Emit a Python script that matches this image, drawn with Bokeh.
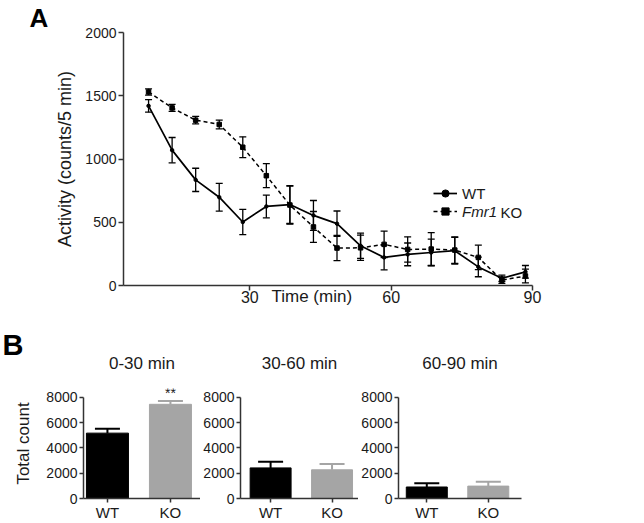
import numpy as np
from bokeh.plotting import figure
from bokeh.layouts import column, row
from bokeh.models import (ColumnDataSource, Whisker, TeeHead, Legend, LegendItem,
                          Label, FixedTicker, Range1d, Title)
from bokeh.embed import file_html
from bokeh.resources import INLINE

# ---------------- Panel A data ----------------
time_min = [8.5, 13.5, 18.5, 23.5, 28.5, 33.5, 38.5, 43.5, 48.5, 53.5,
            58.5, 63.5, 68.5, 73.5, 78.5, 83.5, 88.5]
wt_activity = [1420, 1070, 835, 698, 502, 625, 640, 554, 489, 314,
               222, 246, 261, 275, 147, 57, 108]
wt_sem = [50, 100, 92, 110, 100, 90, 150, 118, 100, 100,
          98, 90, 105, 105, 78, 25, 50]
ko_activity = [1530, 1404, 1307, 1273, 1093, 868, 636, 463, 296, 298,
               325, 285, 288, 280, 222, 42, 75]
ko_sem = [25, 28, 30, 35, 82, 95, 150, 122, 100, 100,
          105, 100, 130, 105, 97, 25, 55]
a_xticks = [30, 60, 90]
a_yticks = [0, 500, 1000, 1500, 2000]

# ---------------- Panel B data ----------------
groups = ["WT", "KO"]
windows = ["0-30 min", "30-60 min", "60-90 min"]
total_0_30 = [5170, 7450]
sem_0_30 = [355, 260]
total_30_60 = [2420, 2270]
sem_30_60 = [480, 450]
total_60_90 = [910, 980]
sem_60_90 = [300, 340]
signif_0_30 = ["", "**"]
b_yticks = [0, 2000, 4000, 6000, 8000]

FONT = "Liberation Sans"
AX = "#333333"
TXT = "#1a1a1a"
GRAY = "#a5a5a5"


def style_axis(ax, size, tick_out=5, standoff=2):
    ax.axis_line_color = AX
    ax.axis_line_width = 1.5
    ax.major_tick_line_color = AX
    ax.major_tick_line_width = 1.5
    ax.major_tick_out = tick_out
    ax.major_tick_in = 0
    ax.minor_tick_line_color = None
    ax.major_label_text_font = FONT
    ax.major_label_text_font_size = size
    ax.major_label_text_color = TXT
    ax.major_label_standoff = standoff
    ax.axis_label_text_font = FONT
    ax.axis_label_text_font_style = "normal"
    ax.axis_label_text_color = TXT


# ================= Panel A =================
A_LEFT, A_RIGHT, A_TOP, A_BOTTOM = 123, 532, 30, 285   # frame in page px
A_X0, A_X1 = 3.18, 90
A_H = 314
pA = figure(width=644, height=A_H, output_backend="svg", toolbar_location=None,
            title=None,
            x_range=Range1d(A_X0, A_X1), y_range=Range1d(0, 2000),
            min_border_left=A_LEFT, min_border_right=644 - A_RIGHT,
            min_border_top=A_TOP, min_border_bottom=A_H - A_BOTTOM)
pA.outline_line_color = None
pA.grid.visible = False


def ax_a(px):
    return A_X0 + (px - A_LEFT) * (A_X1 - A_X0) / (A_RIGHT - A_LEFT)


def ay_a(py):
    return (A_BOTTOM - py) * 2000 / (A_BOTTOM - A_TOP)


style_axis(pA.xaxis[0], "16px", tick_out=5, standoff=0)
style_axis(pA.yaxis[0], "14px", tick_out=5, standoff=2)
pA.xaxis.ticker = FixedTicker(ticks=a_xticks)
pA.yaxis.ticker = FixedTicker(ticks=a_yticks)
pA.yaxis.axis_label = "Activity (counts/5 min)"
pA.yaxis.axis_label_text_font_size = "18px"
pA.yaxis.axis_label_standoff = 7

# x-axis title sits on the same line as the tick labels, just right of "30"
pA.add_layout(Title(text="Time (min)", align="left", offset=271 - A_LEFT,
                    vertical_align="top", standoff=-37, text_font=FONT,
                    text_font_size="17px", text_font_style="normal",
                    text_color=TXT), "below")

wt = np.array(wt_activity, float)
wts = np.array(wt_sem, float)
ko = np.array(ko_activity, float)
kos = np.array(ko_sem, float)
srcA = ColumnDataSource(dict(t=time_min, wt=wt, wt_lo=wt - wts, wt_hi=wt + wts,
                             ko=ko, ko_lo=ko - kos, ko_hi=ko + kos))

for lo, hi in (("wt_lo", "wt_hi"), ("ko_lo", "ko_hi")):
    pA.add_layout(Whisker(source=srcA, base="t", lower=lo, upper=hi,
                          line_color="black", line_width=1.3,
                          upper_head=TeeHead(size=7, line_color="black", line_width=1.3),
                          lower_head=TeeHead(size=7, line_color="black", line_width=1.3)))

wt_line = pA.line("t", "wt", source=srcA, line_color="black", line_width=1.7)
wt_pts = pA.scatter("t", "wt", source=srcA, marker="circle", size=3.5, color="black")
ko_line = pA.line("t", "ko", source=srcA, line_color="black", line_width=1.5,
                  line_dash="4 3")
ko_pts = pA.scatter("t", "ko", source=srcA, marker="square", size=4.5, color="black")

leg_common = dict(padding=0, margin=0, spacing=0, border_line_color=None,
                  background_fill_alpha=0, glyph_width=24, glyph_height=18,
                  label_height=18, label_standoff=5, label_text_font=FONT,
                  label_text_font_size="15px", label_text_color=TXT)
legWT = Legend(items=[LegendItem(label="WT", renderers=[wt_line, wt_pts])],
               location=(433 - A_LEFT, A_BOTTOM - 202), **leg_common)
legKO = Legend(items=[LegendItem(label="Fmr1", renderers=[ko_line, ko_pts])],
               location=(433 - A_LEFT, A_BOTTOM - 220),
               label_text_font_style="italic", **leg_common)
pA.add_layout(legWT)
pA.add_layout(legKO)
pA.add_layout(Label(x=ax_a(500), y=ay_a(211), text="KO", text_align="left",
                    text_baseline="middle", text_font=FONT, text_font_size="15px",
                    text_color=TXT))
pA.add_layout(Title(text="A", align="left", offset=29 - A_LEFT, standoff=0,
                    text_font=FONT, text_font_size="26px", text_font_style="bold",
                    text_color="black"), "above")

# ================= Panel B =================
B_TOP, B_BOTTOM = 388, 501          # frame (8000 sits at ~397)
B_YMAX = 8700
FIG_TOP, FIG_BOTTOM = A_H, 523
K = 63.0                            # px per category step


def make_bar(vals, sems, title, fig_left, frame_left, frame_w, fig_right, x_start,
             ylabel=None, marks=None, letter=None):
    fig = figure(width=fig_right - fig_left, height=FIG_BOTTOM - FIG_TOP,
                 output_backend="svg", toolbar_location=None, title=None,
                 x_range=Range1d(x_start, x_start + frame_w / K),
                 y_range=Range1d(0, B_YMAX),
                 min_border_left=frame_left - fig_left,
                 min_border_right=fig_right - frame_left - frame_w,
                 min_border_top=B_TOP - FIG_TOP, min_border_bottom=FIG_BOTTOM - B_BOTTOM)
    fig.outline_line_color = None
    fig.grid.visible = False
    style_axis(fig.xaxis[0], "15px", tick_out=4, standoff=1)
    style_axis(fig.yaxis[0], "14px", tick_out=4, standoff=2)
    xs = list(range(1, len(groups) + 1))
    fig.xaxis.ticker = FixedTicker(ticks=xs)
    fig.xaxis.major_label_overrides = {x: g for x, g in zip(xs, groups)}
    fig.yaxis.ticker = FixedTicker(ticks=b_yticks)
    fig.yaxis.bounds = (b_yticks[0], b_yticks[-1])
    if ylabel:
        fig.yaxis.axis_label = ylabel
        fig.yaxis.axis_label_text_font_size = "17px"
        fig.yaxis.axis_label_standoff = 10
    colors = ["black", GRAY]
    src = ColumnDataSource(dict(x=xs, top=vals, color=colors))
    fig.vbar(x="x", top="top", width=42 / K, source=src, fill_color="color",
             line_color="color", line_width=1)
    for i in range(len(xs)):
        s = ColumnDataSource(dict(x=[xs[i]], lo=[vals[i]], hi=[vals[i] + sems[i]]))
        fig.add_layout(Whisker(source=s, base="x", lower="lo", upper="hi",
                               line_color=colors[i], line_width=2,
                               upper_head=TeeHead(size=25, line_color=colors[i], line_width=2),
                               lower_head=None))
        if marks and marks[i]:
            fig.add_layout(Label(x=xs[i], y=vals[i] + sems[i], text=marks[i],
                                 text_align="center", text_baseline="bottom",
                                 text_font=FONT, text_font_size="14px", text_color=TXT))
    fig.add_layout(Title(text=title, align="center", standoff=32, text_font=FONT,
                         text_font_size="17px", text_font_style="normal",
                         text_color=TXT), "above")
    if letter:
        fig.add_layout(Title(text=letter, align="left", offset=2 - (frame_left - fig_left),
                             standoff=-50, text_font=FONT, text_font_size="29px",
                             text_font_style="bold", text_color="black"), "above")
    return fig


b1 = make_bar(total_0_30, sem_0_30, windows[0], 0, 83, 117, 200, 0.62,
              ylabel="Total count", marks=signif_0_30, letter="B")
b2 = make_bar(total_30_60, sem_30_60, windows[1], 200, 237, 121, 358, 0.51)
b3 = make_bar(total_60_90, sem_60_90, windows[2], 358, 395, 126, 644, 0.54)

layout = column(pA, row(b1, b2, b3, spacing=0), spacing=0)
open("out.html", "w").write(file_html(layout, INLINE))
